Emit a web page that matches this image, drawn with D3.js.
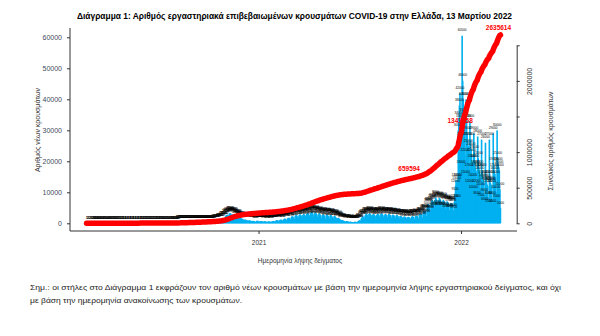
<!DOCTYPE html>
<html><head><meta charset="utf-8">
<script src="https://cdn.jsdelivr.net/npm/d3@7"></script>
<style>body{margin:0;background:#fff}svg{display:block}</style>
</head><body>
<svg id="chart" width="600" height="336"></svg>
<script>
// ---------------- DATA ----------------
const startDate = "2020-02-26";
const cases2020 = [
 1,1,2,3,
 1,2,2,3,4,7,10, 15,20,25,30,35,40,45, 50,55,60,55,60,65,55, 60,70,65,60,55,50,45, 55,60,50,
 55,50,60,50,45,40,35, 40,45,50,35,30,25,20, 25,30,70,40,30,25,20, 25,20,15,15,12,10,12, 15,12,
 10,8,10,12,10,8,6, 10,12,8,6,10,12,8, 6,10,12,15,10,8,6, 10,12,8,6,10,12,8, 6,10,12,
 10,12,8,15,20,18,12, 10,15,12,20,18,15,10, 12,15,20,25,30,20,15, 25,20,18,22,15,12,20, 25,18,
 20,25,30,22,18,25,30, 35,28,25,30,35,40,30, 25,35,40,45,30,25,40, 45,50,55,40,35,60,70, 75,80,90,
 100,90,110,120,130,140,150, 160,180,170,200,220,240,230, 200,210,230,250,240,220,200, 230,260,250,230,220,200,210, 240,250,220,
 260,280,300,290,270,250,280, 320,350,330,300,280,260,300, 340,380,350,330,300,270,310, 360,380,370,340,300,280,330, 380,400,
 420,400,370,340,380,430,460, 480,450,420,400,450,520,560, 600,620,580,550,650,750,850, 900,1000,950,900,1100,1300,1500, 1600,1700,1500,
 1600,2100,2400,2600,2700,2800,2600, 2400,2900,3200,3300,3100,2900,2600, 2500,2900,3000,2800,2600,2300,2000, 1800,2200,2300,2100,1900,1700,1500, 1400,1700,
 1600,1500,1400,1300,1100,950,1150, 1200,1100,1000,950,850,700,850, 950,900,850,800,700,600,750, 800,750,700,500,400,450,700, 800,850,700
];
const cases2021 = [
 600,500,500,650,750,700,650, 600,500,450,600,650,600,550, 500,450,400,550,600,600,550, 500,450,400,550,700,750,700, 650,550,500,
 800,950,1000,950,900,700,650, 1000,1100,1200,1150,1000,800,750, 1200,1400,1500,1450,1300,1000,900, 1500,1700,1800,1750,1600,1200,1100,
 1900,2200,2300,2100,1900,1400,1300, 2300,2600,2700,2500,2200,1700,1500, 2500,2800,2900,2700,2400,1800,1600, 2700,3000,2900,2800,2500,1900,1700, 3000,3300,3200,
 3000,2700,2100,1800, 3300,3700,3600,3400,3000,2200,1900, 3200,3500,3400,3200,2800,2100,1800, 2900,3200,3100,2800,2500,1800,1600, 2700,2900,2800,2600,2300,
 1500,1300, 2600,2800,2700,2500,2200,1500,1300, 2500,2700,2600,2300,2000,1400,1200, 2200,2400,2200,2000,1700,1200,1000, 1700,1800,1600,1400,1200,800,700, 1100,
 1000,900,850,750,650,500,400, 750,700,650,600,550,400,350, 550,500,450,400,380,300,250, 420,460,500,460,420,330,300, 600,700,
 850,1000,800,700, 1500,1800,2000,2200,2100,1700,1500, 2500,2800,3000,2900,2700,2100,1800, 3000,3200,3100,2900,2600,2000,1700, 2800,3000,2900,2700,2400,1800,
 1600, 2700,2900,3000,2900,2600,2000,1700, 2900,3200,3100,3000,2700,2100,1800, 2500,2900,3000,2800,2600,2000,1700, 2800,3000,2900,2700,2500,1900,1600, 2600,2800,
 2700,2600,2300,1700,1500, 2500,2700,2600,2400,2100,1500,1300, 2300,2400,2300,2100,1900,1300,1100, 2100,2200,2100,2000,1800,1200,1000, 2000,2100,2000,1900,
 1700,1200,1000, 2100,2300,2200,2100,1900,1300,1100, 2300,2500,2400,2300,2100,1500,1300, 2700,3000,3000,2900,2700,1900,1700, 3400,3900,4000,3900,3600,2500,2300,
 5000,5800,6200,6000,5700,4000,3600, 6500,7200,7500,7200,6800,5000,4500, 7500,8300,8000,7600,7000,5200,4600, 7600,8200,7900,7400,6800,5000,4400, 7000,7600,
 7300,6900,6300,4500,4000, 6700,7100,6800,6400,5900,4200,3800, 6300,6600,6400,6200,5800,4100,3700, 7000,9500,12000,14000,13000,7000,14000, 30000,34000,38000,42000,33000
];
const cases2022 = [
 18000,27000,60500,46000,40000,35000,31000, 22000,15000,40000,33000,29000,27000,25000, 17000,12000,33000,27000,24000,22000,20000, 14000,10000,29000,23000,20000,18000,17000, 12000,8000,28000,
 21000,18000,17000,16000,11000,7500, 27000,17000,15000,14000,13000,9000,6000, 26000,15000,13500,12500,12000,8000,5500, 27000,15000,13000,12500,12000,8000,5500, 29000,
 19000,17000,16000,15000,10000,7000, 30000,21000,19000,18000,17000,11000,5000
];
const leftTicks = [0, 10000, 20000, 30000, 40000, 50000, 60000];
const rightTicks = [0, 500000, 1000000, 1500000, 2000000, 2500000];
const rightTickLabels = ["0", "500000", "1000000", "", "2000000", ""];
const xTickDates = ["2021-01-01", "2022-01-01"];
const xTickLabels = ["2021", "2022"];
const cumLabelValues = [659594, 1341358, 2635614];
const titleText = "Διάγραμμα 1: Αριθμός εργαστηριακά επιβεβαιωμένων κρουσμάτων COVID-19 στην Ελλάδα, 13 Μαρτίου 2022";
const leftTitle = "Αριθμός νέων κρουσμάτων";
const rightTitle = "Συνολικός αριθμός κρουσμάτων";
const xTitle = "Ημερομηνία λήψης δείγματος";
const noteLines = [
 "Σημ.: οι στήλες στο Διάγραμμα 1 εκφράζουν τον αριθμό νέων κρουσμάτων με βάση την ημερομηνία λήψης εργαστηριακού δείγματος, και όχι",
 "με βάση την ημερομηνία ανακοίνωσης των κρουσμάτων."
];

// ---------------- BUILD ----------------
const daily = cases2020.concat(cases2021, cases2022);
const t0 = d3.timeParse("%Y-%m-%d")(startDate);
const dates = daily.map((v, i) => d3.timeDay.offset(t0, i));
const cum = Array.from(d3.cumsum(daily));
const data = daily.map((v, i) => ({date: dates[i], v, c: cum[i]}));

const svg = d3.select("#chart");
const FONT = "'Liberation Sans', Arial, sans-serif";
const plot = {left: 70, right: 517, top: 28, bottom: 231};

const first = dates[0], last = dates[dates.length - 1];
const span = last - first;
const x = d3.scaleTime()
  .domain([new Date(+first - 0.04 * span), new Date(+last + 0.04 * span)])
  .range([plot.left, plot.right]);
const yL = d3.scaleLinear().domain([0, 60000]).range([223.3, 37.3]);
const yR = d3.scaleLinear().domain([0, 2500000]).range([223.3, 45.3]);

// title
svg.append("text").attr("x", 294.5).attr("y", 19).attr("text-anchor", "middle")
  .attr("font-family", FONT).attr("font-weight", "bold").attr("font-size", 8.2)
  .attr("textLength", 435).attr("lengthAdjust", "spacingAndGlyphs")
  .attr("fill", "#000").text(titleText);

// bars
const bw = 1.6;
svg.append("g").selectAll("rect").data(data).join("rect")
  .attr("x", d => x(d.date) - bw / 2)
  .attr("width", bw)
  .attr("y", d => yL(d.v))
  .attr("height", d => yL(0) - yL(d.v))
  .attr("fill", "#00b0f0");

// bar value labels
svg.append("g").attr("font-family", FONT).attr("font-size", 3.2)
  .attr("text-anchor", "middle")
  .selectAll("text").data(data).join("text")
  .attr("x", d => x(d.date))
  .attr("y", d => yL(d.v) - 4.3)
  .attr("fill", "#000")
  .text(d => d.v);

// frame (L shape)
svg.append("path")
  .attr("d", `M${plot.left},${plot.top}V${plot.bottom}H${plot.right}`)
  .attr("fill", "none").attr("stroke", "#333").attr("stroke-width", 1);

// left axis
const gL = svg.append("g").attr("transform", `translate(${plot.left},0)`)
  .call(d3.axisLeft(yL).tickValues(leftTicks).tickSize(3).tickPadding(5).tickFormat(d3.format("d")));
gL.select(".domain").remove();
gL.selectAll("line").attr("stroke", "#333");
gL.selectAll("text").attr("font-family", FONT).attr("font-size", 7).attr("fill", "#3d4a5c");

// right axis
const gR = svg.append("g").attr("transform", "translate(516.7,0)")
  .call(d3.axisRight(yR).tickValues(rightTicks).tickSize(3).tickSizeOuter(0)
    .tickFormat((d, i) => rightTickLabels[i]));
gR.select(".domain").attr("stroke", "#333");
gR.selectAll("line").attr("stroke", "#333");
gR.selectAll("text").attr("x", 0).attr("dy", "0.35em").attr("text-anchor", "middle")
  .attr("transform", "translate(13,0) rotate(-90)")
  .attr("font-family", FONT).attr("font-size", 7).attr("fill", "#333");

// bottom axis
const gB = svg.append("g").attr("transform", `translate(0,${plot.bottom})`)
  .call(d3.axisBottom(x).tickValues(xTickDates.map(d3.timeParse("%Y-%m-%d")))
    .tickSize(3).tickPadding(6).tickFormat((d, i) => xTickLabels[i]));
gB.select(".domain").remove();
gB.selectAll("line").attr("stroke", "#333");
gB.selectAll("text").attr("font-family", FONT).attr("font-size", 6.5).attr("fill", "#333");

// axis titles
svg.append("text").attr("transform", "translate(40,130) rotate(-90)").attr("text-anchor", "middle")
  .attr("font-family", FONT).attr("font-size", 7).attr("fill", "#333").text(leftTitle);
svg.append("text").attr("transform", "translate(552.5,141) rotate(-90)").attr("text-anchor", "middle")
  .attr("font-family", FONT).attr("font-size", 7).attr("fill", "#333").text(rightTitle);
svg.append("text").attr("x", 300).attr("y", 263).attr("text-anchor", "middle")
  .attr("font-family", FONT).attr("font-size", 6.5).attr("fill", "#333").text(xTitle);

// cumulative labels
const labelPts = cumLabelValues.map((val, k) => {
  let idx = cum.findIndex(c => c >= val);
  if (idx < 0 || k === cumLabelValues.length - 1) idx = cum.length - 1;
  return {val, date: dates[idx], k};
});
svg.append("g").selectAll("text").data(labelPts).join("text")
  .attr("x", d => x(d.date) + (d.k === 0 ? 0 : -2))
  .attr("y", d => yR(d.val) - (d.k === 2 ? 6 : 5))
  .attr("text-anchor", d => d.k === 0 ? "end" : "middle")
  .attr("font-family", FONT).attr("font-weight", "bold").attr("font-size", 6.5)
  .attr("fill", "#ff0000").text(d => d.val);

// cumulative line
svg.append("path").datum(data)
  .attr("d", d3.line().x(d => x(d.date)).y(d => yR(d.c)))
  .attr("fill", "none").attr("stroke", "#ff0000").attr("stroke-width", 5.5)
  .attr("stroke-linecap", "round").attr("stroke-linejoin", "round");

// note
svg.append("g").attr("font-family", FONT).attr("font-size", 7.5).attr("fill", "#222")
  .selectAll("text").data(noteLines).join("text")
  .attr("x", 30).attr("y", (d, i) => 290 + i * 13)
  .attr("textLength", (d, i) => i === 0 ? 531 : 212).attr("lengthAdjust", "spacingAndGlyphs")
  .text(d => d);
</script>
</body></html>
